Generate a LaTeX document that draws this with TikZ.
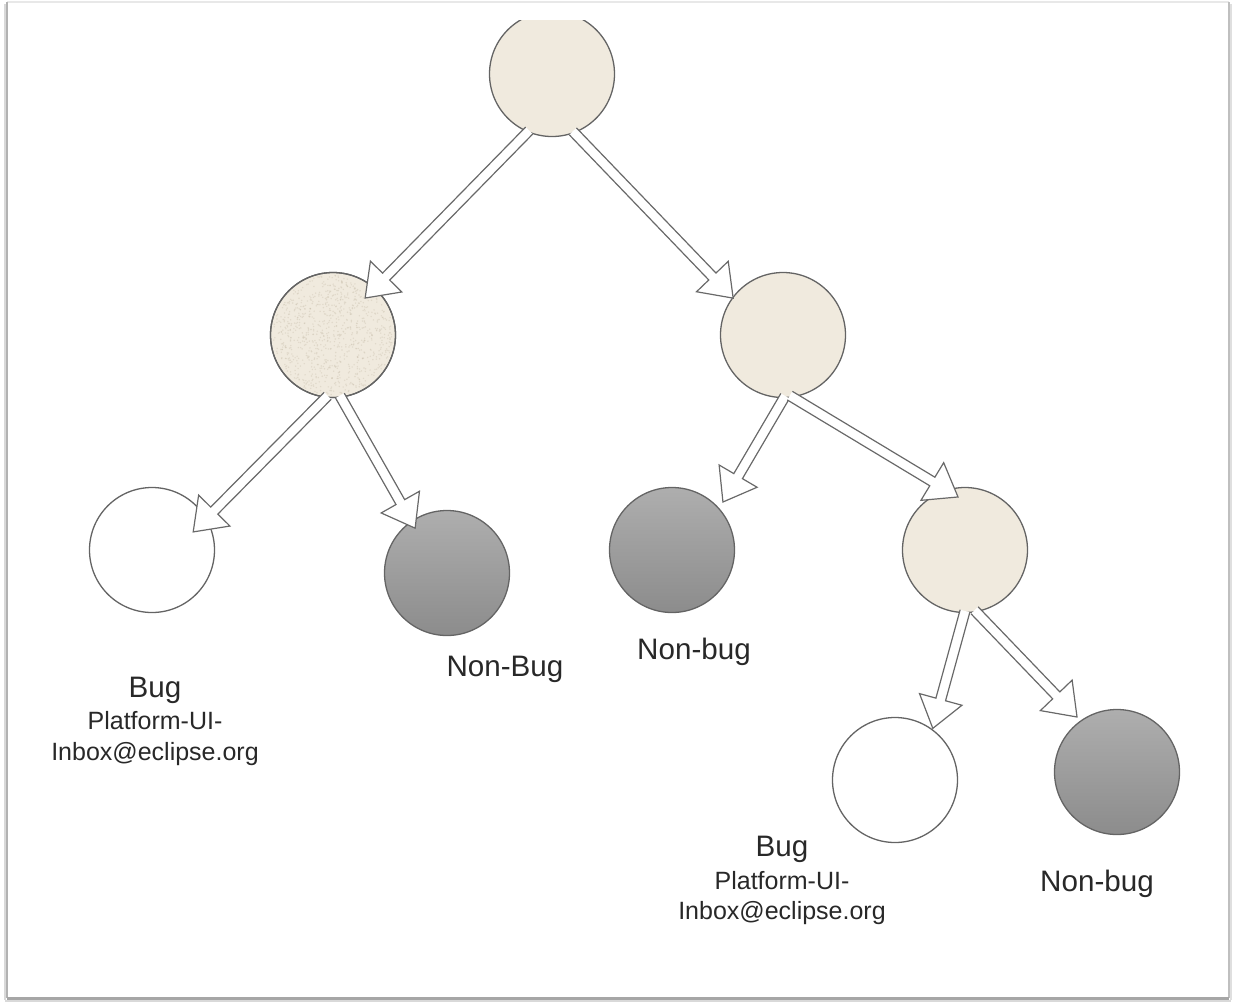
\documentclass[tikz,border=0pt]{standalone}
\usepackage{fontspec}
\setmainfont{Liberation Sans}
\usetikzlibrary{calc}

\definecolor{beige}{RGB}{240,234,222}
\definecolor{beigegrain}{RGB}{196,186,166}
\definecolor{rim}{RGB}{100,100,100}
\definecolor{arrowrim}{RGB}{105,105,105}
\definecolor{ink}{RGB}{40,40,40}
\definecolor{leaftop}{RGB}{174,174,174}
\definecolor{leafbot}{RGB}{140,140,140}

% hollow block arrow from #1 (tail) to #2 (tip)
\newcommand\hollowarrow[2]{%
  \filldraw[hollow]
    ($(#1)!2.5pt!90:(#2)$)
    -- ($(#2)!15pt!(#1)!2.5pt!90:(#2)$)
    -- ($(#2)!15pt!(#1)!11pt!90:(#2)$)
    -- (#2)
    -- ($(#2)!15pt!(#1)!11pt!-90:(#2)$)
    -- ($(#2)!15pt!(#1)!2.5pt!-90:(#2)$)
    -- ($(#1)!2.5pt!-90:(#2)$);
}

\begin{document}
\begin{tikzpicture}[x=0.5pt,y=0.5pt,
  vertex/.style={circle,minimum size=62.5pt,inner sep=0pt,outer sep=0pt,
                 draw=rim,line width=0.65pt},
  decision/.style={vertex,fill=beige},
  bugleaf/.style={vertex,fill=white},
  cleanleaf/.style={vertex,top color=leaftop,bottom color=leafbot},
  hollow/.style={fill=white,draw=arrowrim,line width=0.6pt,line join=miter},
  bigtext/.style={font=\fontsize{14.8pt}{17pt}\selectfont,text=ink,anchor=base,inner sep=0pt},
  smalltext/.style={font=\fontsize{12.5pt}{14pt}\selectfont,text=ink,anchor=base,inner sep=0pt}
]
\useasboundingbox (0,0) rectangle (1233,-1003);

% page frame with a soft shadow
\draw[gray!18,line width=1pt] (7,-2) -- (1229,-2);
\draw[gray!25,line width=1.2pt] (1231,-4) -- (1231,-1000);
\draw[gray!50,line width=1pt] (1229,-2) -- (1229,-998);
\draw[gray!30,line width=1.2pt] (5,-4) -- (5,-1000);
\draw[gray!60,line width=1pt] (7,-2) -- (7,-998);
\draw[gray!30,line width=1.2pt] (5,-1001) -- (1231,-1001);
\draw[gray!70,line width=1.1pt] (7,-998.5) -- (1229,-998.5);

% root, cut off at the top edge
\begin{scope}
  \clip (0,-20) rectangle (1233,-1003);
  \node[decision] (root) at (552,-74) {};
\end{scope}

% inner decision nodes
\node[decision] (ml) at (333,-335) {};
\node[decision] (mr) at (783,-335) {};
\node[decision] (br) at (965,-550) {};

% grainy surface of the left decision node
\begin{scope}
  \clip (ml) circle (62);
  \pgfmathsetseed{11}
  \foreach \i in {1,...,900} {
    \pgfmathsetmacro\rr{60*sqrt(rnd)}
    \pgfmathsetmacro\aa{360*rnd}
    \fill[beigegrain,opacity=0.35] ($(ml)+(\aa:\rr)$) circle (0.8);
  }
\end{scope}
\node[vertex] at (ml) {};

% leaves
\node[bugleaf] (wl) at (152,-550) {};
\node[cleanleaf] (dl) at (447,-573) {};
\node[cleanleaf] (dm) at (672,-550) {};
\node[bugleaf] (wb) at (895,-780) {};
\node[cleanleaf] (db) at (1117,-772) {};

% arrow ends
\coordinate (a1s) at ($(root)+(248:61)$);
\coordinate (a1t) at ($(ml)+(49:49)$);
\coordinate (a2s) at ($(root)+(290:61)$);
\coordinate (a2t) at ($(mr)+(143.5:62)$);
\coordinate (a3s) at ($(ml)+(265:61)$);
\coordinate (a3t) at ($(wl)+(23.7:45)$);
\coordinate (a4s) at ($(ml)+(276.5:61)$);
\coordinate (a4t) at ($(dl)+(125.4:55)$);
\coordinate (a5s) at ($(mr)+(272:61)$);
\coordinate (a5t) at ($(dm)+(43.3:70)$);
\coordinate (a6s) at ($(mr)+(276.4:61)$);
\coordinate (a6t) at ($(br)+(97.5:53.5)$);
\coordinate (a7s) at ($(br)+(270:61)$);
\coordinate (a7t) at ($(wb)+(53.8:64)$);
\coordinate (a8s) at ($(br)+(279:61)$);
\coordinate (a8t) at ($(db)+(126:68)$);

\hollowarrow{a1s}{a1t}
\hollowarrow{a2s}{a2t}
\hollowarrow{a3s}{a3t}
\hollowarrow{a4s}{a4t}
\hollowarrow{a5s}{a5t}
\hollowarrow{a6s}{a6t}
\hollowarrow{a7s}{a7t}
\hollowarrow{a8s}{a8t}

% labels
\node[bigtext] (bugA) at (155,-697) {Bug};
\node[smalltext] (bugAl1) at (155,-729) {Platform-UI-};
\node[smalltext] (bugAl2) at (155,-760) {Inbox@eclipse.org};
\node[bigtext] (nbA) at (505,-676) {Non-Bug};
\node[bigtext] (nbB) at (694,-659) {Non-bug};
\node[bigtext] (bugB) at (782,-856) {Bug};
\node[smalltext] (bugBl1) at (782,-889) {Platform-UI-};
\node[smalltext] (bugBl2) at (782,-919) {Inbox@eclipse.org};
\node[bigtext] (nbC) at (1097,-891) {Non-bug};
\end{tikzpicture}
\end{document}
